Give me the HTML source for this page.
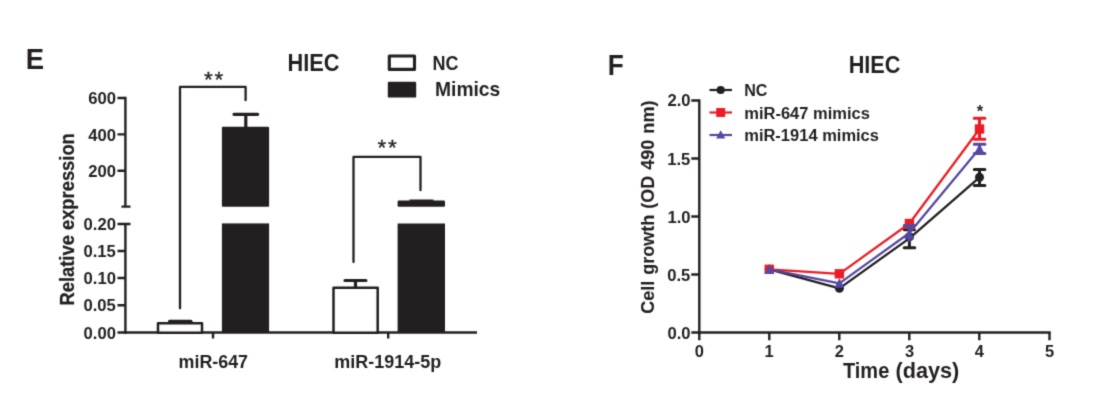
<!DOCTYPE html>
<html lang="en">
<head>
<meta charset="utf-8">
<title>HIEC miR-647 / miR-1914 figure</title>
<style>
  html,body{margin:0;padding:0;background:#fff;}
  body{width:1100px;height:404px;overflow:hidden;}
  svg{display:block;}
  text{font-family:"Liberation Sans",Arial,Helvetica,sans-serif;font-weight:bold;fill:#231f20;}
  .rot{stroke:#231f20;stroke-width:0.25;}
  .rot2{stroke:#231f20;stroke-width:0.15;}
  .ast{stroke:#231f20;stroke-width:0.3;}
  .ax{stroke:#231f20;stroke-width:2.4;fill:none;}
  .thin{stroke:#231f20;stroke-width:2.3;stroke-linejoin:round;stroke-linecap:round;fill:none;}
  .blk{fill:#231f20;stroke:none;}
  .wht{fill:#fff;stroke:#231f20;stroke-width:2.5;stroke-linejoin:round;}
</style>
</head>
<body>
<svg width="1100" height="404" viewBox="0 0 1100 404">
<defs>
  <filter id="soft" x="0" y="0" width="1100" height="404" filterUnits="userSpaceOnUse" color-interpolation-filters="sRGB">
    <feConvolveMatrix order="3" kernelMatrix="0.0196 0.1008 0.0196 0.1008 0.5184 0.1008 0.0196 0.1008 0.0196" edgeMode="duplicate" preserveAlpha="true"/>
  </filter>
</defs>
<g filter="url(#soft)">
<rect x="0" y="0" width="1100" height="404" fill="#ffffff"/>

<g id="panelE">
  <text x="25.74" y="69.4" font-size="30.4" textLength="18.34" lengthAdjust="spacingAndGlyphs">E</text>
  <text x="287.53" y="70.8" font-size="23.5" textLength="52.05" lengthAdjust="spacingAndGlyphs">HIEC</text>
  <rect class="wht" style="stroke-width:3.1" x="389.3" y="56" width="25.2" height="13.4"/>
  <rect class="blk" x="387.8" y="81.700" width="28.4" height="15.900" rx="1.2"/>
  <text x="432.39" y="69.8" font-size="20.5" textLength="26.0" lengthAdjust="spacingAndGlyphs">NC</text>
  <text x="435.0" y="96.0" font-size="19.8" textLength="65.27" lengthAdjust="spacingAndGlyphs">Mimics</text>
  <path class="ax" d="M125.4 96.8V206.6"/>
  <path class="ax" d="M117.5 98H125.4M117.5 134.4H125.4M117.5 170.8H125.4M121.5 206.6H130.5"/>
  <path class="ax" d="M125.4 224V333.7"/>
  <path class="ax" d="M121.5 224H130.5M117.5 224H125.4M117.5 251H125.4M117.5 278H125.4M117.5 305.3H125.4M117.5 332.5H125.4"/>
  <path class="ax" d="M124.2 332.5H477"/>
  <path class="ax" d="M213 332.500V338.500M388.200 332.500V338.500"/>
  <text x="88.21" y="104.1" font-size="17.3" textLength="27.77" lengthAdjust="spacingAndGlyphs">600</text>
  <text x="88.21" y="140.5" font-size="17.3" textLength="27.77" lengthAdjust="spacingAndGlyphs">400</text>
  <text x="88.21" y="176.9" font-size="17.3" textLength="27.77" lengthAdjust="spacingAndGlyphs">200</text>
  <text x="83.6" y="230.1" font-size="17.3" textLength="32.39" lengthAdjust="spacingAndGlyphs">0.20</text>
  <text x="83.39" y="257.1" font-size="17.3" textLength="32.39" lengthAdjust="spacingAndGlyphs">0.15</text>
  <text x="83.6" y="284.1" font-size="17.3" textLength="32.39" lengthAdjust="spacingAndGlyphs">0.10</text>
  <text x="83.39" y="311.40000000000003" font-size="17.3" textLength="32.39" lengthAdjust="spacingAndGlyphs">0.05</text>
  <text x="83.6" y="338.6" font-size="17.3" textLength="32.39" lengthAdjust="spacingAndGlyphs">0.00</text>
  <text class="rot" transform="translate(74.3 304.3) rotate(-90)" x="-1.24" y="0" font-size="19.3" textLength="172.37" lengthAdjust="spacingAndGlyphs">Relative expression</text>
  <text x="178.54" y="367.5" font-size="17.8" textLength="69.53" lengthAdjust="spacingAndGlyphs">miR-647</text>
  <text x="334.28" y="367.5" font-size="17.8" textLength="107.02" lengthAdjust="spacingAndGlyphs">miR-1914-5p</text>
  <path class="ax" style="stroke-width:3;stroke-linecap:round" d="M169.500 321.300H191"/>
  <rect class="wht" x="158" y="323.200" width="44" height="9.500"/>
  <path class="ax" style="stroke-width:3.2;stroke-linecap:round" d="M234 114.300H257.700M245.800 114.300V128"/>
  <rect class="blk" x="221.900" y="126.700" width="47.200" height="80" rx="1"/>
  <rect class="blk" x="221.900" y="223.400" width="47.200" height="109.100"/>
  <path class="ax" style="stroke-width:3.2;stroke-linecap:round" d="M345 280.500H365.900M355.500 280.500V288"/>
  <rect class="wht" x="333.500" y="287.700" width="44.200" height="45"/>
  <path class="ax" style="stroke-width:2.6" d="M409.500 200.800H433.500"/>
  <rect class="blk" x="397.600" y="200.600" width="47.400" height="6.100" rx="1.2"/>
  <rect class="blk" x="397.600" y="223.500" width="47.400" height="109"/>
  <path class="thin" d="M180 308.300V86.900H245.600V100.200"/>
  <path class="thin" d="M353.500 262V156.800H420.500V190.200"/>
  <text class="ast" y="86.9" font-size="22.5" style="font-weight:normal"><tspan x="204.01" textLength="8.77" lengthAdjust="spacingAndGlyphs">*</tspan><tspan x="214.51" textLength="8.77" lengthAdjust="spacingAndGlyphs">*</tspan></text>
  <text class="ast" y="155.0" font-size="22.5" style="font-weight:normal"><tspan x="377.61" textLength="8.77" lengthAdjust="spacingAndGlyphs">*</tspan><tspan x="388.11" textLength="8.77" lengthAdjust="spacingAndGlyphs">*</tspan></text>
</g>
<g id="panelF">
  <text x="607.83" y="74.7" font-size="30" textLength="16.01" lengthAdjust="spacingAndGlyphs">F</text>
  <text x="848.64" y="73.2" font-size="23.1" textLength="51.84" lengthAdjust="spacingAndGlyphs">HIEC</text>
  <path class="ax" d="M699.3 99.400V333.700"/>
  <path class="ax" d="M691.300 100.500H699.3M691.300 158.500H699.3M691.300 216.500H699.3M691.300 274.500H699.3M691.300 332.500H699.3"/>
  <path class="ax" d="M698.0999999999999 332.500H1050.700"/>
  <path class="ax" d="M699.300 332.500V340.300M769.300 332.500V340.300M839.300 332.500V340.300M909.300 332.500V340.300M979.300 332.500V340.300M1049.500 332.500V340.300"/>
  <text x="667.43" y="105.89999999999999" font-size="17.3" textLength="23.14" lengthAdjust="spacingAndGlyphs">2.0</text>
  <text x="667.22" y="164.6" font-size="17.3" textLength="23.14" lengthAdjust="spacingAndGlyphs">1.5</text>
  <text x="667.43" y="222.6" font-size="17.3" textLength="23.14" lengthAdjust="spacingAndGlyphs">1.0</text>
  <text x="667.22" y="280.6" font-size="17.3" textLength="23.14" lengthAdjust="spacingAndGlyphs">0.5</text>
  <text x="667.43" y="338.6" font-size="17.3" textLength="23.14" lengthAdjust="spacingAndGlyphs">0.0</text>
  <text x="694.72" y="357.3" font-size="17" textLength="9.17" lengthAdjust="spacingAndGlyphs">0</text>
  <text x="764.49" y="357.3" font-size="17" textLength="9.17" lengthAdjust="spacingAndGlyphs">1</text>
  <text x="834.87" y="357.3" font-size="17" textLength="9.17" lengthAdjust="spacingAndGlyphs">2</text>
  <text x="904.98" y="357.3" font-size="17" textLength="9.17" lengthAdjust="spacingAndGlyphs">3</text>
  <text x="974.84" y="357.3" font-size="17" textLength="9.17" lengthAdjust="spacingAndGlyphs">4</text>
  <text x="1044.93" y="357.3" font-size="17" textLength="9.17" lengthAdjust="spacingAndGlyphs">5</text>
  <text y="377.8" font-size="21.6"><tspan x="842.95" textLength="46.32" lengthAdjust="spacingAndGlyphs">Time</tspan> <tspan x="895.52" textLength="63.77" lengthAdjust="spacingAndGlyphs">(days)</tspan></text>
  <text class="rot2" transform="translate(654.0 313.0) rotate(-90)" x="-0.72" y="0" font-size="18.4" textLength="213.12" lengthAdjust="spacingAndGlyphs" style="word-spacing:1.0px">Cell growth (OD 490 nm)</text>
  <path d="M709.500 90H732" stroke="#231f20" stroke-width="2.2"/>
  <circle cx="720.700" cy="90" r="4.100" fill="#231f20"/>
  <text x="744.21" y="96" font-size="16.8" textLength="23.22" lengthAdjust="spacingAndGlyphs">NC</text>
  <path d="M709.500 112.500H732" stroke="#ed1c24" stroke-width="2.2"/>
  <rect x="716.200" y="108" width="9" height="9" fill="#ed1c24"/>
  <text x="744.23" y="118.5" font-size="16.8" textLength="125.63" lengthAdjust="spacingAndGlyphs">miR-647 mimics</text>
  <path d="M709.500 135H732" stroke="#5348a2" stroke-width="2.2"/>
  <path d="M720.700 130.300L725.300 138.500H716.100Z" fill="#5348a2"/>
  <text x="744.23" y="141" font-size="16.8" textLength="134.75" lengthAdjust="spacingAndGlyphs">miR-1914 mimics</text>
  <g stroke="#231f20" fill="#231f20" stroke-width="2.25">
    <path fill="none" stroke-linejoin="round" d="M769.3 269.3L839.4 288.3L909.4 238.3L979.5 177.3"/>
    <path fill="none" style="stroke-width:3;stroke-linecap:round" d="M904.4 229.800H914.4M909.4 229.800V247.800M904.2 247.800H914.8"/>
    <path fill="none" style="stroke-width:3;stroke-linecap:round" d="M974.3 169.500H984.9M979.5 169.500V185.500M974.3 185.500H984.9"/>
    <circle cx="769.3" cy="269.3" r="4.500" stroke="none"/>
    <circle cx="839.4" cy="288.3" r="4.500" stroke="none"/>
    <circle cx="909.4" cy="236.8" r="4.500" stroke="none"/>
    <circle cx="979.5" cy="177.3" r="4.500" stroke="none"/>
  </g>
  <g stroke="#ed1c24" fill="#ed1c24" stroke-width="2.25">
    <path fill="none" stroke-linejoin="round" d="M769.3 269.3L839.4 273.8L909.4 223.5L979.5 129"/>
    <path fill="none" style="stroke-width:3.1;stroke-linecap:round" d="M974.3 118.300H984.9M979.5 118.300V139.300M974.3 139.300H984.9"/>
    <rect stroke="none" x="764.6" y="264.6" width="9.400" height="9.400"/>
    <rect stroke="none" x="834.7" y="269.1" width="9.400" height="9.400"/>
    <rect stroke="none" x="904.7" y="218.8" width="9.400" height="9.400"/>
    <rect stroke="none" x="974.8" y="124.3" width="9.400" height="9.400"/>
  </g>
  <g stroke="#5348a2" fill="#5348a2" stroke-width="2.25">
    <path fill="none" stroke-linejoin="round" d="M769.3 269.3L839.4 283.3L909.4 233L979.5 148.5"/>
    <path fill="none" style="stroke-width:3;stroke-linecap:round" d="M904.2 225.400H914.8M909.4 225.400V240"/>
    <path fill="none" style="stroke-width:3;stroke-linecap:round" d="M974.3 144.200H984.9M979.5 144.200V153.300M974.3 153.500H984.9"/>
    <path stroke="none" d="M769.3 264.2L774.2 273.8H764.4Z"/>
    <path stroke="none" d="M839.4 278.2L844.3 287.8H834.5Z"/>
    <path stroke="none" d="M909.4 229.6L914.3 239.2H904.5Z"/>
    <path stroke="none" d="M979.5 143.7L984.4 153.3H974.6Z"/>
  </g>
  <text x="976.78" y="117.2" font-size="16.5" textLength="6.42" lengthAdjust="spacingAndGlyphs" fill="#5f5b5c">*</text>
</g>
</g>
</svg>
</body>
</html>
